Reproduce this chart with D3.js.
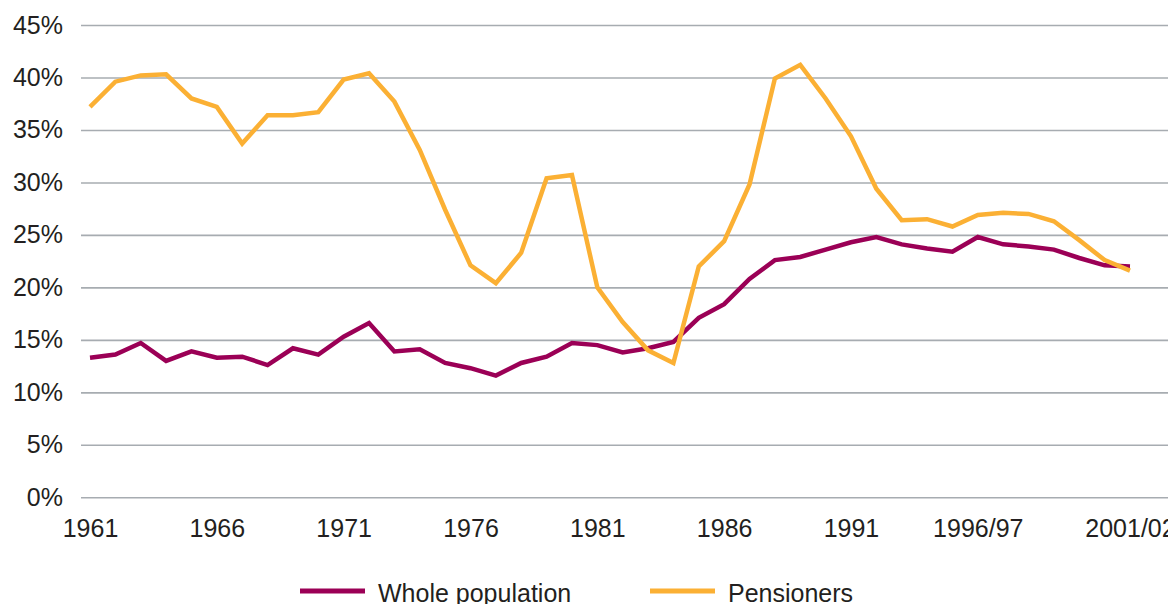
<!DOCTYPE html>
<html>
<head>
<meta charset="utf-8">
<script src="https://cdn.jsdelivr.net/npm/d3@7"></script>
<style>
  body { margin: 0; background: #fff; }
  svg text { font-family: "Liberation Sans", Arial, sans-serif; fill: #231f20; }
</style>
</head>
<body>
<svg id="chart"></svg>
<script>
// one point per survey year, 1961 to 2001/02
var wholePopulation = [13.3, 13.6, 14.7, 13.0, 13.9, 13.3, 13.4, 12.6, 14.2, 13.6,
                       15.3, 16.6, 13.9, 14.1, 12.8, 12.3, 11.6, 12.8, 13.4, 14.7,
                       14.5, 13.8, 14.2, 14.8, 17.1, 18.4, 20.8, 22.6, 22.9, 23.6,
                       24.3, 24.8, 24.1, 23.7, 23.4, 24.8, 24.1, 23.9, 23.6, 22.8,
                       22.1, 22.0];
var pensioners = [37.2, 39.6, 40.2, 40.3, 38.0, 37.2, 33.7, 36.4, 36.4, 36.7,
                  39.8, 40.4, 37.7, 33.1, 27.4, 22.1, 20.4, 23.3, 30.4, 30.7,
                  20.0, 16.7, 14.0, 12.8, 22.0, 24.4, 29.8, 39.9, 41.2, 38.0,
                  34.4, 29.4, 26.4, 26.5, 25.8, 26.9, 27.1, 27.0, 26.3, 24.5,
                  22.6, 21.6];
var tickLabels = ["1961", "1966", "1971", "1976", "1981", "1986", "1991", "1996/97", "2001/02"];
var tickIndex  = [0, 5, 10, 15, 20, 25, 30, 35, 41];
var yTicks = [0, 5, 10, 15, 20, 25, 30, 35, 40, 45];

var series = [
  {name: "Whole population", values: wholePopulation, color: "#9b0056"},
  {name: "Pensioners", values: pensioners, color: "#fbb034"}
];

var width = 1168, height = 604;
var gridLeft = 81;

var svg = d3.select("#chart")
  .attr("width", width)
  .attr("height", height);

var x = d3.scalePoint()
  .domain(d3.range(wholePopulation.length))
  .range([90, 1130]);

var y = d3.scaleLinear()
  .domain([0, 45])
  .range([497.3, 25]);

// gridlines + y labels
var yAxis = d3.axisLeft(y)
  .tickValues(yTicks)
  .tickSize(-(width - gridLeft))
  .tickPadding(18)
  .tickFormat(function(d){ return d + "%"; });

var gy = svg.append("g")
  .attr("transform", "translate(" + gridLeft + ",0)")
  .call(yAxis);
gy.select(".domain").remove();
gy.selectAll("line").attr("stroke", "#a7acb1").attr("stroke-width", 1.6);
gy.selectAll("text").style("font-size", "25px");

// x labels
var xAxis = d3.axisBottom(x)
  .tickValues(tickIndex)
  .tickSize(0)
  .tickPadding(22)
  .tickFormat(function(d, i){ return tickLabels[i]; });

var gx = svg.append("g")
  .attr("transform", "translate(0," + y(0) + ")")
  .call(xAxis);
gx.select(".domain").remove();
gx.selectAll("text").style("font-size", "25px");

var line = d3.line()
  .x(function(d, i){ return x(i); })
  .y(function(d){ return y(d); });

svg.selectAll("path.series")
  .data(series)
  .enter()
  .append("path")
    .attr("class", "series")
    .attr("fill", "none")
    .attr("stroke", function(d){ return d.color; })
    .attr("stroke-width", 4.5)
    .attr("stroke-linejoin", "miter")
    .attr("d", function(d){ return line(d.values); });

// legend
var legend = svg.selectAll("g.legend")
  .data(series)
  .enter()
  .append("g")
    .attr("class", "legend")
    .attr("transform", function(d, i){ return "translate(" + (300 + i * 350) + ",591)"; });

legend.append("line")
  .attr("x1", 0).attr("x2", 65)
  .attr("stroke", function(d){ return d.color; })
  .attr("stroke-width", 5);

legend.append("text")
  .attr("x", 78)
  .attr("y", 11)
  .style("font-size", "25px")
  .text(function(d){ return d.name; });
</script>
</body>
</html>
